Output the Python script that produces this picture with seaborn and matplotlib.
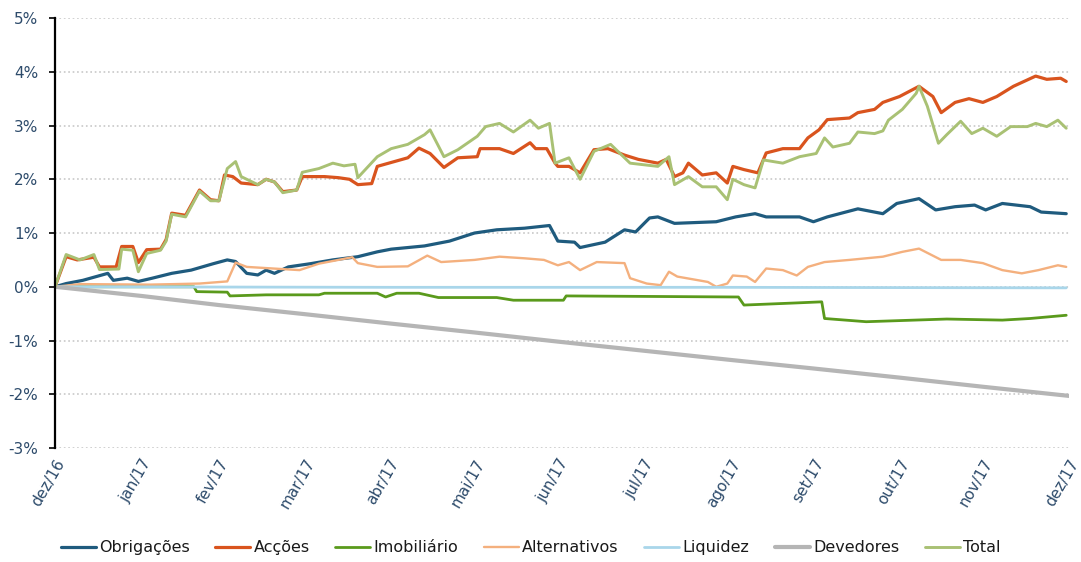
import numpy as np
import pandas as pd
import matplotlib
matplotlib.use("Agg")
import matplotlib.pyplot as plt
import seaborn as sns

# ---------------- data (days since 2016-12-31, value in %) ----------------
start_date = "2016-12-31"

obr_days = [0, 4, 10, 19, 21, 26, 30, 35, 42, 49, 57, 62, 65, 69, 73, 76, 79, 84, 92, 100,
            109, 116, 121, 133, 142, 151, 159, 169, 178, 181, 187, 189, 198, 205, 209, 214,
            217, 223, 238, 245, 252, 256, 268, 273, 278, 289, 298, 303, 311, 317, 324, 331,
            335, 341, 351, 355, 364]
obr_vals = [0, 0.06, 0.12, 0.25, 0.12, 0.16, 0.10, 0.16, 0.25, 0.31, 0.43, 0.50, 0.47, 0.25,
            0.22, 0.31, 0.25, 0.37, 0.43, 0.50, 0.56, 0.65, 0.70, 0.76, 0.85, 1.00, 1.06, 1.09,
            1.14, 0.85, 0.83, 0.73, 0.83, 1.06, 1.02, 1.28, 1.30, 1.18, 1.21, 1.30, 1.36, 1.30,
            1.30, 1.21, 1.30, 1.45, 1.36, 1.55, 1.64, 1.43, 1.49, 1.52, 1.43, 1.55, 1.49, 1.39,
            1.36]

acc_days = [0, 4, 8, 14, 16, 22, 24, 28, 30, 33, 38, 40, 42, 47, 52, 56, 59, 61, 64, 67, 73,
            76, 79, 82, 87, 89, 97, 102, 106, 109, 114, 116, 127, 131, 135, 140, 145, 152, 153,
            160, 165, 171, 173, 177, 180, 181, 185, 189, 194, 199, 205, 210, 217, 220, 223,
            226, 228, 233, 238, 242, 244, 248, 253, 256, 262, 268, 271, 275, 278, 286, 289,
            295, 298, 304, 311, 316, 319, 324, 329, 334, 339, 345, 353, 357, 362, 364]
acc_vals = [0, 0.56, 0.50, 0.55, 0.37, 0.37, 0.75, 0.75, 0.45, 0.69, 0.70, 0.88, 1.37, 1.33,
            1.80, 1.62, 1.60, 2.08, 2.05, 1.93, 1.90, 2.00, 1.95, 1.77, 1.80, 2.05, 2.05, 2.03,
            2.00, 1.90, 1.92, 2.24, 2.40, 2.58, 2.48, 2.22, 2.40, 2.42, 2.57, 2.57, 2.48, 2.68,
            2.57, 2.57, 2.30, 2.24, 2.24, 2.12, 2.55, 2.57, 2.45, 2.37, 2.30, 2.37, 2.05, 2.12,
            2.30, 2.08, 2.12, 1.93, 2.24, 2.18, 2.12, 2.49, 2.57, 2.57, 2.77, 2.92, 3.11, 3.14,
            3.24, 3.30, 3.43, 3.54, 3.73, 3.54, 3.24, 3.43, 3.50, 3.43, 3.54, 3.73, 3.92, 3.86,
            3.88, 3.82]

imo_days = [0, 50, 51, 62, 63, 76, 95, 97, 116, 119, 123, 131, 138, 159, 165, 183, 184, 246,
            248, 267, 276, 277, 292, 321, 341, 351, 364]
imo_vals = [0, 0, -0.09, -0.10, -0.17, -0.15, -0.15, -0.12, -0.12, -0.19, -0.12, -0.12, -0.20,
            -0.20, -0.25, -0.25, -0.17, -0.19, -0.34, -0.30, -0.28, -0.59, -0.65, -0.60, -0.62,
            -0.59, -0.53]

alt_days = [0, 9, 34, 52, 62, 65, 69, 88, 95, 107, 109, 116, 127, 134, 139, 151, 160, 169,
            176, 181, 185, 189, 195, 205, 207, 213, 218, 221, 224, 235, 238, 242, 244, 249, 252,
            256, 262, 267, 271, 277, 286, 298, 305, 311, 319, 326, 334, 341, 348, 354, 361, 364]
alt_vals = [0, 0.05, 0.04, 0.06, 0.10, 0.45, 0.37, 0.31, 0.43, 0.55, 0.44, 0.37, 0.38, 0.58,
            0.46, 0.50, 0.56, 0.53, 0.50, 0.40, 0.46, 0.31, 0.46, 0.44, 0.16, 0.06, 0.03, 0.28,
            0.19, 0.09, 0.00, 0.06, 0.21, 0.19, 0.09, 0.34, 0.31, 0.21, 0.37, 0.46, 0.50, 0.56,
            0.65, 0.71, 0.50, 0.50, 0.44, 0.31, 0.25, 0.31, 0.40, 0.37]

liq_days = [0, 120, 240, 364]
liq_vals = [0, -0.01, -0.01, -0.02]

dev_days = [0, 31, 59, 90, 120, 151, 181, 212, 243, 273, 304, 334, 365]
dev_vals = [0, -0.17, -0.34, -0.51, -0.68, -0.85, -1.02, -1.19, -1.36, -1.52, -1.69, -1.86, -2.03]

tot_days = [0, 4, 9, 14, 16, 23, 24, 28, 30, 33, 38, 40, 42, 47, 52, 56, 59, 62, 65, 67, 73,
            76, 79, 82, 87, 89, 95, 100, 104, 108, 109, 116, 121, 127, 133, 135, 140, 145, 152,
            155, 160, 165, 171, 174, 178, 180, 185, 189, 194, 200, 207, 217, 221, 223, 228, 233,
            238, 242, 244, 248, 252, 255, 262, 268, 274, 277, 280, 286, 289, 295, 298, 300, 305,
            310, 311, 314, 318, 321, 326, 330, 334, 339, 344, 350, 353, 357, 361, 364]
tot_vals = [0, 0.60, 0.50, 0.60, 0.32, 0.33, 0.70, 0.68, 0.28, 0.62, 0.68, 0.85, 1.35, 1.30,
            1.78, 1.60, 1.60, 2.20, 2.33, 2.05, 1.90, 2.00, 1.95, 1.75, 1.80, 2.13, 2.20, 2.30,
            2.25, 2.28, 2.03, 2.42, 2.57, 2.65, 2.83, 2.92, 2.42, 2.55, 2.80, 2.98, 3.04, 2.88,
            3.10, 2.95, 3.04, 2.30, 2.40, 2.00, 2.52, 2.65, 2.30, 2.24, 2.42, 1.90, 2.05, 1.86,
            1.86, 1.62, 2.00, 1.90, 1.84, 2.36, 2.30, 2.42, 2.48, 2.77, 2.60, 2.67, 2.88, 2.85,
            2.90, 3.10, 3.30, 3.60, 3.73, 3.36, 2.67, 2.83, 3.08, 2.85, 2.95, 2.80, 2.98, 2.98,
            3.04, 2.98, 3.10, 2.95]

series_names = ["Obrigações", "Acções", "Imobiliário", "Alternativos", "Liquidez",
                "Devedores", "Total"]
month_labels = ["dez/16", "jan/17", "fev/17", "mar/17", "abr/17", "mai/17", "jun/17",
                "jul/17", "ago/17", "set/17", "out/17", "nov/17", "dez/17"]
y_ticks = [-3, -2, -1, 0, 1, 2, 3, 4, 5]

# ---------------- styling ----------------
colors = {"Obrigações": "#1f5b7e", "Acções": "#d9541e", "Imobiliário": "#5a9a1c",
          "Alternativos": "#f4b07e", "Liquidez": "#a9d6ea", "Devedores": "#b5b5b5",
          "Total": "#a9c174"}
widths = {"Obrigações": 2.3, "Acções": 2.3, "Imobiliário": 2.0, "Alternativos": 1.7,
          "Liquidez": 2.0, "Devedores": 3.0, "Total": 2.1}
text_color = "#2d4b6b"

data = {
    "Obrigações": (obr_days, obr_vals), "Acções": (acc_days, acc_vals),
    "Imobiliário": (imo_days, imo_vals), "Alternativos": (alt_days, alt_vals),
    "Liquidez": (liq_days, liq_vals), "Devedores": (dev_days, dev_vals),
    "Total": (tot_days, tot_vals),
}

sns.set_theme(style="white")
plt.rcParams["font.family"] = ["DejaVu Sans"]

fig = plt.figure(figsize=(10.81, 5.62), dpi=100)
ax = fig.add_axes([0.0509, 0.2028, 0.9380, 0.7651])

t0 = pd.Timestamp(start_date)
for name in series_names:
    d, v = data[name]
    df = pd.DataFrame({"date": t0 + pd.to_timedelta(d, unit="D"), "value": v})
    sns.lineplot(data=df, x="date", y="value", color=colors[name], linewidth=widths[name],
                 ax=ax, label=name, estimator=None, sort=False)

tick_dates = pd.date_range(start_date, periods=len(month_labels), freq="ME")
ax.set_xlim(tick_dates[0], tick_dates[-1])
ax.set_xticks(tick_dates)
ax.set_xticklabels(month_labels, rotation=60, ha="right", va="top",
                   rotation_mode="anchor", color=text_color, fontsize=11)
ax.tick_params(axis="x", length=0, pad=6)

ax.set_ylim(-3, 5)
ax.set_yticks(y_ticks)
ax.set_yticklabels([f"{t}%" for t in y_ticks], color=text_color, fontsize=11)
ax.tick_params(axis="y", length=4, width=1.2, color="black", direction="out", left=True, pad=8)

ax.grid(axis="y", color="#c8c8c8", linestyle=":", linewidth=1.2)
ax.grid(axis="x", visible=False)
for s in ["top", "right", "bottom"]:
    ax.spines[s].set_visible(False)
ax.spines["left"].set_color("black")
ax.spines["left"].set_linewidth(1.6)
ax.set_xlabel("")
ax.set_ylabel("")

handles, labels = ax.get_legend_handles_labels()
ax.get_legend().remove()
fig.legend(handles, labels, loc="center", bbox_to_anchor=(0.491, 0.025), ncol=7,
           frameon=False, fontsize=11.5, handlelength=2.2, handletextpad=0.2,
           columnspacing=1.6, labelcolor="#1a1a1a")

fig.savefig("out.png", dpi=100)
